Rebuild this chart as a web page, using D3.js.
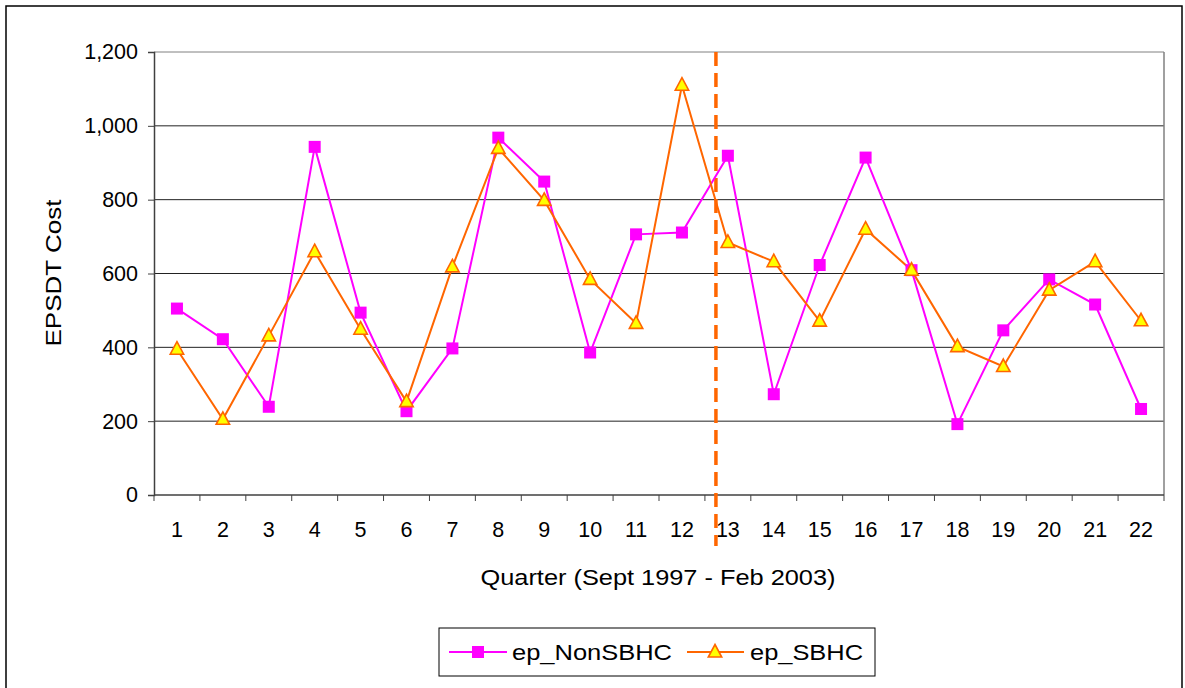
<!DOCTYPE html>
<html>
<head>
<meta charset="utf-8">
<script src="https://cdn.jsdelivr.net/npm/d3@7"></script>
<style>
  html, body { margin: 0; padding: 0; background: #fff; }
  svg { display: block; font-family: "Liberation Sans", Arial, sans-serif; }
</style>
</head>
<body>
<svg id="chart" width="1185" height="688"></svg>
<script>
// ---- data ----
const categories = ["1","2","3","4","5","6","7","8","9","10","11","12","13","14","15","16","17","18","19","20","21","22"];
const nonSBHC = [505, 422, 239, 943, 494, 227, 397, 968, 849, 386, 706, 711, 919, 273, 623, 914, 609, 192, 446, 584, 516, 233];
const sbhc    = [395, 205, 431, 659, 449, 253, 618, 939, 798, 584, 465, 1110, 684, 632, 471, 720, 609, 402, 348, 555, 632, 472];
const yTicks = [0, 200, 400, 600, 800, 1000, 1200];
const seriesNames = ["ep_NonSBHC", "ep_SBHC"];
const breakPosition = 12.74; // dashed separator, in category units (between quarter 12 and 13)

// ---- layout ----
const svg = d3.select("#chart");
const pLeft = 154, pRight = 1164, pTop = 52, pBottom = 495;

const x = d3.scaleBand().domain(categories).range([pLeft, pRight]).paddingInner(0).paddingOuter(0);
const y = d3.scaleLinear().domain([0, 1200]).range([pBottom, pTop]);
const cx = c => x(c) + x.bandwidth() / 2;
const xCat = d3.scaleLinear().domain([1, categories.length]).range([cx(categories[0]), cx(categories[categories.length - 1])]);

// outer frame
svg.append("rect").attr("x", 6).attr("y", 6).attr("width", 1176).attr("height", 700)
  .attr("fill", "none").attr("stroke", "#000").attr("stroke-width", 1.5);

// gridlines
svg.append("g").selectAll("line").data(yTicks.filter(t => t > 0)).join("line")
  .attr("x1", pLeft).attr("x2", pRight)
  .attr("y1", d => y(d)).attr("y2", d => y(d))
  .attr("stroke", d => d === 1200 ? "#808080" : "#222").attr("stroke-width", 1);

// plot area right border
svg.append("line").attr("x1", pRight).attr("x2", pRight).attr("y1", pTop).attr("y2", pBottom)
  .attr("stroke", "#808080").attr("stroke-width", 1.5);

// y axis
const yAxis = d3.axisLeft(y).tickValues(yTicks).tickSize(6).tickPadding(10).tickFormat(d3.format(","));
const gy = svg.append("g").attr("transform", `translate(${pLeft},0)`).call(yAxis);
gy.select(".domain").attr("stroke", "#404040").attr("stroke-width", 1.5);
gy.selectAll(".tick line").attr("stroke", "#404040");
gy.selectAll("text").attr("font-size", 21.5).attr("fill", "#000")
  .attr("font-family", "Liberation Sans, Arial, sans-serif");

// x axis (ticks at category boundaries)
const gx = svg.append("g").attr("transform", `translate(0,${pBottom})`);
gx.append("line").attr("x1", pLeft).attr("x2", pRight).attr("y1", 0).attr("y2", 0)
  .attr("stroke", "#404040").attr("stroke-width", 1.5);
const boundaries = categories.map(c => x(c)).concat([pRight]);
gx.selectAll("line.tk").data(boundaries).join("line").attr("class", "tk")
  .attr("x1", d => d).attr("x2", d => d).attr("y1", 0).attr("y2", 6)
  .attr("stroke", "#404040").attr("stroke-width", 1);
gx.selectAll("text").data(categories).join("text")
  .attr("x", d => cx(d)).attr("y", 42)
  .attr("text-anchor", "middle").attr("font-size", 21.5).attr("fill", "#000")
  .text(d => d);

// axis titles
svg.append("text").attr("x", 658).attr("y", 585).attr("text-anchor", "middle")
  .attr("font-size", 22).attr("textLength", 355).attr("lengthAdjust", "spacingAndGlyphs")
  .text("Quarter (Sept 1997 - Feb 2003)");
svg.append("text").attr("transform", "translate(61,273) rotate(-90)").attr("text-anchor", "middle")
  .attr("font-size", 22).attr("textLength", 147).attr("lengthAdjust", "spacingAndGlyphs")
  .text("EPSDT Cost");

// dashed separator
svg.append("line").attr("x1", xCat(breakPosition)).attr("x2", xCat(breakPosition))
  .attr("y1", pTop).attr("y2", 546)
  .attr("stroke", "#FF6600").attr("stroke-width", 3.5).attr("stroke-dasharray", "14,7");

const magenta = "#FF00FF", orange = "#FF6600", yellow = "#FFFF00";
const triPath = "M0,-7.5L6.7,5L-6.7,5Z";

// series lines
const line = d3.line().x((d, i) => cx(categories[i])).y(d => y(d));
svg.append("path").datum(nonSBHC).attr("d", line).attr("fill", "none")
  .attr("stroke", magenta).attr("stroke-width", 2);
svg.append("path").datum(sbhc).attr("d", line).attr("fill", "none")
  .attr("stroke", orange).attr("stroke-width", 2);

// markers
svg.append("g").selectAll("rect").data(nonSBHC).join("rect")
  .attr("x", (d, i) => cx(categories[i]) - 6).attr("y", d => y(d) - 6)
  .attr("width", 12).attr("height", 12).attr("fill", magenta);
svg.append("g").selectAll("path").data(sbhc).join("path")
  .attr("transform", (d, i) => `translate(${cx(categories[i])},${y(d)})`)
  .attr("d", triPath).attr("fill", yellow).attr("stroke", orange).attr("stroke-width", 1.6);

// legend
const lg = svg.append("g");
lg.append("rect").attr("x", 439).attr("y", 628).attr("width", 436).attr("height", 48)
  .attr("fill", "#fff").attr("stroke", "#000").attr("stroke-width", 1);
lg.append("line").attr("x1", 449).attr("x2", 507).attr("y1", 652).attr("y2", 652)
  .attr("stroke", magenta).attr("stroke-width", 2);
lg.append("rect").attr("x", 472).attr("y", 646).attr("width", 12).attr("height", 12).attr("fill", magenta);
lg.append("text").attr("x", 512).attr("y", 660).attr("font-size", 22)
  .attr("textLength", 160).attr("lengthAdjust", "spacingAndGlyphs").text(seriesNames[0]);
lg.append("line").attr("x1", 687).attr("x2", 744).attr("y1", 652).attr("y2", 652)
  .attr("stroke", orange).attr("stroke-width", 2);
lg.append("path").attr("transform", "translate(715,652)").attr("d", triPath)
  .attr("fill", yellow).attr("stroke", orange).attr("stroke-width", 1.6);
lg.append("text").attr("x", 750).attr("y", 660).attr("font-size", 22)
  .attr("textLength", 113).attr("lengthAdjust", "spacingAndGlyphs").text(seriesNames[1]);
</script>
</body>
</html>
